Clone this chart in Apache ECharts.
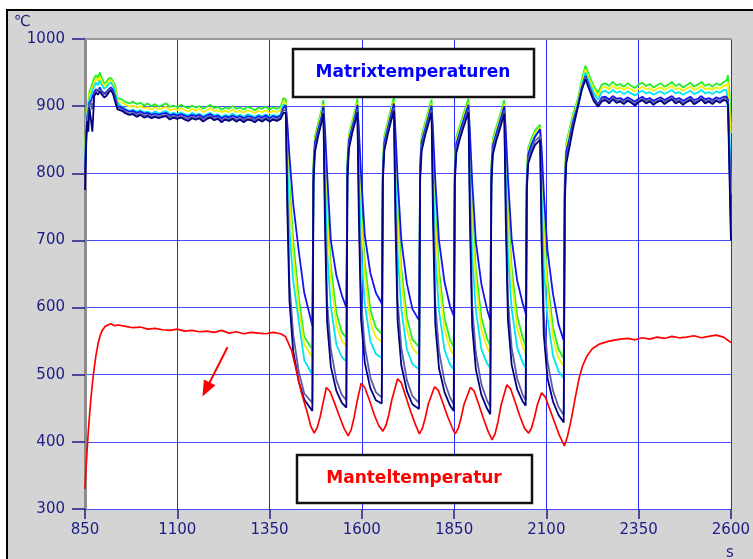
<!DOCTYPE html>
<html style="height: 100%">
<head>
<meta charset="utf-8">
<script src="https://cdn.jsdelivr.net/npm/echarts@6/dist/echarts.min.js"></script>
</head>
<body style="height: 100%; margin: 0; background: #fff">
<div id="container" style="width: 753px; height: 559px"></div>
<script type="text/javascript">
// Zeitachse der Matrix-Thermoelemente (s)
var tMatrix = [
  850, 853, 856, 859, 862, 866, 870, 875, 880, 885, 890, 896, 902, 908, 914, 920, 926, 932, 938,
  950, 960, 970, 980, 990, 1000, 1010, 1020, 1030, 1040,
  1050, 1060, 1070, 1080, 1090, 1100, 1110, 1120, 1130, 1140,
  1150, 1160, 1170, 1180, 1190, 1200, 1210, 1220, 1230, 1240,
  1250, 1260, 1270, 1280, 1290, 1300, 1310, 1320, 1330, 1340,
  1350, 1360, 1370, 1380, 1388,
  1394, 1398, 1404, 1414, 1429, 1444, 1466, 1469, 1473, 1482, 1491,
  1496, 1500, 1506, 1516, 1531, 1546, 1558, 1561, 1565, 1574, 1583,
  1588, 1592, 1598, 1608, 1623, 1638, 1654, 1657, 1661, 1670, 1679,
  1687, 1691, 1697, 1707, 1722, 1737, 1755, 1758, 1762, 1771, 1780,
  1789, 1793, 1799, 1809, 1824, 1839, 1849, 1852, 1856, 1865, 1874,
  1889, 1893, 1899, 1909, 1924, 1939, 1948, 1951, 1955, 1964, 1973,
  1986, 1990, 1996, 2006, 2021, 2036, 2044, 2047, 2051, 2060, 2069,
  2083, 2087, 2093, 2103, 2118, 2133, 2147, 2150, 2154, 2163, 2172,
  2186, 2196, 2206, 2216, 2228, 2240, 2250,
  2260, 2270, 2280, 2290, 2300, 2310, 2320, 2330, 2340, 2350,
  2360, 2370, 2380, 2390, 2400, 2410, 2420, 2430, 2440, 2450,
  2460, 2470, 2480, 2490, 2500, 2510, 2520, 2530, 2540, 2550,
  2560, 2570, 2580, 2588, 2592, 2596, 2600
];

var green = [
  835, 878, 898, 905, 922, 927, 925, 942, 946, 942, 950, 941, 934, 936, 941, 942, 937, 930, 912,
  910, 906, 904, 907, 903, 905, 901, 904, 900, 903,
  899, 902, 904, 899, 901, 898, 902, 899, 897, 901,
  898, 900, 896, 899, 902, 897, 899, 895, 898, 896,
  900, 896, 898, 895, 899, 897, 894, 898, 896, 899,
  895, 898, 896, 899, 912,
  910, 865, 785, 700, 615, 556, 538, 815, 855, 875, 895,
  909, 845, 750, 662, 592, 563, 555, 820, 858, 878, 897,
  911, 848, 754, 667, 597, 570, 561, 816, 856, 876, 896,
  913, 845, 748, 658, 585, 553, 541, 817, 856, 874, 892,
  910, 843, 746, 656, 584, 552, 541, 815, 854, 870, 886,
  911, 841, 744, 656, 585, 554, 543, 810, 852, 868, 884,
  909, 845, 748, 658, 587, 555, 543, 800, 838, 852, 864,
  872, 815, 728, 640, 570, 538, 524, 800, 845, 866, 888,
  912, 940, 960, 946, 930, 920, 932,
  934, 930, 936, 931, 933, 929, 934, 930, 927, 932,
  935, 930, 933, 928, 931, 934, 929, 932, 936, 930,
  933, 928, 931, 935, 929, 932, 936, 930, 933, 929,
  934, 931, 936, 938, 946, 920, 870
];
var yellow = [
  825, 872, 894, 900, 918, 922, 920, 936, 941, 937, 944, 936, 930, 932, 937, 939, 934, 925, 908,
  905, 902, 899, 901, 898, 900, 897, 898, 895, 898,
  895, 897, 899, 894, 896, 894, 897, 894, 892, 896,
  893, 896, 891, 894, 897, 892, 894, 891, 893, 891,
  895, 891, 893, 890, 894, 892, 890, 893, 891, 894,
  890, 893, 891, 894, 908,
  904, 850, 765, 680, 600, 545, 526, 810, 850, 870, 890,
  903, 830, 732, 645, 575, 550, 543, 815, 854, 874, 893,
  905, 833, 736, 650, 580, 556, 549, 812, 852, 872, 892,
  907, 830, 730, 642, 568, 540, 529, 812, 852, 870, 888,
  904, 828, 728, 640, 567, 539, 529, 810, 850, 866, 882,
  905, 826, 726, 640, 568, 541, 531, 806, 848, 864, 880,
  903, 830, 730, 642, 570, 542, 531, 797, 834, 848, 860,
  868, 800, 710, 625, 555, 525, 512, 795, 840, 862, 884,
  908, 935, 955, 941, 925, 915, 927,
  929, 925, 930, 926, 928, 924, 928, 925, 922, 926,
  929, 925, 927, 923, 926, 928, 924, 927, 930, 925,
  927, 923, 926, 929, 924, 926, 930, 925, 927, 924,
  928, 926, 930, 931, 935, 900, 860
];
var cyan = [
  815, 866, 890, 895, 912, 916, 915, 930, 935, 931, 938, 931, 926, 928, 933, 935, 930, 920, 905,
  899, 896, 893, 895, 892, 894, 891, 892, 889, 892,
  889, 891, 893, 888, 890, 888, 891, 888, 886, 890,
  887, 889, 885, 888, 890, 886, 888, 884, 887, 885,
  889, 885, 887, 884, 888, 886, 884, 887, 885, 888,
  884, 887, 885, 888, 903,
  899, 820, 715, 640, 580, 522, 500, 805, 846, 866, 885,
  898, 800, 682, 602, 545, 526, 520, 810, 850, 870, 889,
  900, 803, 686, 606, 550, 531, 525, 806, 848, 868, 887,
  902, 800, 680, 598, 538, 516, 508, 808, 848, 866, 884,
  899, 798, 678, 596, 537, 515, 508, 805, 845, 862, 878,
  900, 796, 676, 596, 538, 517, 510, 802, 843, 860, 876,
  898, 800, 680, 598, 540, 518, 510, 792, 830, 845, 856,
  864, 770, 660, 585, 528, 505, 495, 785, 832, 855, 880,
  905, 930, 950, 936, 920, 910, 921,
  923, 919, 924, 920, 922, 918, 922, 919, 916, 920,
  923, 919, 921, 917, 920, 922, 918, 921, 924, 919,
  921, 917, 920, 923, 918, 920, 924, 919, 921, 918,
  922, 920, 924, 924, 922, 860, 770
];
var blue = [
  800, 858, 885, 888, 905, 908, 906, 921, 925, 922, 928, 922, 919, 921, 925, 928, 924, 913, 900,
  898, 894, 892, 893, 890, 892, 889, 890, 887, 889,
  887, 889, 890, 886, 888, 886, 888, 886, 884, 887,
  885, 887, 883, 886, 888, 884, 886, 882, 885, 883,
  886, 883, 885, 882, 885, 884, 882, 885, 883, 886,
  882, 885, 883, 886, 898,
  901, 875, 825, 755, 685, 622, 573, 805, 845, 866, 884,
  900, 868, 800, 700, 648, 618, 600, 810, 848, 868, 887,
  902, 866, 798, 708, 652, 622, 606, 806, 846, 866, 886,
  904, 864, 792, 700, 636, 598, 581, 808, 846, 864, 882,
  901, 862, 790, 700, 638, 602, 588, 805, 843, 860, 876,
  902, 860, 788, 698, 635, 598, 581, 802, 841, 858, 874,
  900, 864, 792, 702, 640, 606, 591, 790, 828, 843, 854,
  866, 838, 772, 685, 620, 575, 551, 785, 832, 852, 876,
  902, 927, 945, 930, 913, 903, 913,
  914, 910, 915, 911, 912, 909, 913, 910, 907, 911,
  914, 910, 912, 908, 911, 913, 909, 912, 915, 910,
  912, 908, 911, 914, 909, 911, 915, 910, 912, 909,
  913, 911, 914, 914, 910, 830, 730
];
var slate = [
  790, 850, 882, 880, 902, 905, 895, 918, 922, 920, 925, 920, 917, 919, 923, 926, 921, 910, 898,
  895, 891, 889, 890, 887, 889, 886, 887, 884, 886,
  884, 886, 887, 883, 885, 883, 885, 883, 881, 884,
  882, 884, 880, 883, 885, 881, 883, 879, 882, 880,
  883, 880, 882, 879, 882, 881, 879, 882, 880, 883,
  879, 882, 880, 883, 894,
  894, 775, 635, 560, 505, 472, 458, 795, 840, 862, 880,
  893, 758, 608, 538, 492, 470, 462, 800, 842, 864, 883,
  895, 762, 612, 542, 496, 474, 466, 797, 840, 862, 881,
  897, 760, 610, 540, 492, 468, 458, 798, 840, 860, 878,
  894, 758, 606, 536, 490, 466, 456, 795, 837, 856, 871,
  895, 755, 602, 532, 486, 462, 452, 792, 835, 854, 869,
  893, 760, 610, 540, 494, 470, 462, 782, 822, 836, 848,
  855, 730, 590, 520, 476, 452, 440, 770, 822, 846, 871,
  901, 926, 943, 928, 910, 901, 910,
  911, 907, 912, 908, 909, 906, 910, 907, 904, 908,
  911, 907, 909, 905, 908, 910, 906, 909, 912, 907,
  909, 905, 908, 911, 906, 908, 912, 907, 909, 906,
  910, 908, 911, 911, 906, 820, 715
];
var navy = [
  775, 840, 878, 862, 898, 900, 862, 915, 920, 917, 922, 917, 913, 915, 920, 924, 918, 906, 895,
  893, 889, 887, 888, 884, 887, 883, 885, 882, 884,
  882, 884, 885, 880, 883, 881, 883, 880, 878, 882,
  880, 882, 877, 881, 883, 879, 881, 876, 880, 878,
  881, 877, 880, 876, 880, 879, 876, 880, 877, 881,
  877, 880, 878, 881, 890,
  890, 750, 610, 535, 490, 463, 446, 785, 832, 856, 876,
  889, 728, 578, 512, 476, 458, 451, 792, 836, 860, 879,
  891, 732, 582, 518, 480, 462, 457, 788, 834, 857, 877,
  893, 730, 580, 514, 476, 456, 449, 790, 833, 855, 873,
  890, 728, 576, 510, 474, 454, 446, 786, 830, 850, 866,
  891, 725, 572, 508, 470, 450, 441, 784, 828, 848, 864,
  889, 730, 580, 515, 478, 460, 454, 775, 815, 830, 842,
  850, 700, 560, 495, 460, 440, 429, 760, 815, 840, 866,
  900, 924, 940, 925, 908, 899, 907,
  909, 904, 910, 905, 907, 903, 908, 905, 901, 906,
  909, 904, 907, 902, 906, 908, 903, 907, 910, 904,
  907, 902, 906, 909, 903, 906, 910, 904, 907, 903,
  908, 905, 909, 908, 902, 800, 700
];

// Manteltemperatur
var tMantel = [
  850, 854, 858, 862, 866, 870, 875, 880, 886, 892, 898, 905, 912, 920, 930,
  940, 960, 980, 1000, 1020, 1040, 1060, 1080, 1100, 1120, 1140, 1160,
  1180, 1200, 1220, 1240, 1260, 1280, 1300, 1320, 1340, 1360, 1380,
  1393, 1410, 1424, 1437, 1451, 1462,
  1471, 1479, 1487, 1495, 1504, 1514, 1526, 1540, 1552,
  1563, 1571, 1579, 1587, 1598, 1608, 1620, 1634, 1646,
  1657, 1665, 1673, 1681, 1697, 1707, 1719, 1733, 1745,
  1756, 1764, 1772, 1780, 1797, 1807, 1819, 1833, 1845,
  1853, 1861, 1869, 1877, 1894, 1904, 1916, 1930, 1942,
  1953, 1961, 1969, 1977, 1993, 2003, 2015, 2029, 2041,
  2052, 2060, 2068, 2076, 2087, 2097, 2109, 2123, 2135,
  2149, 2158, 2168, 2178, 2188, 2198, 2210, 2225, 2245, 2270, 2300,
  2320, 2340, 2360, 2380, 2400, 2420, 2440, 2460, 2480, 2500,
  2520, 2540, 2560, 2580, 2600
];
var mantel = [
  330, 372, 408, 438, 464, 487, 510, 530, 548, 560, 567, 572, 574, 576, 573,
  574, 572, 570, 571, 568, 569, 567, 566, 568, 565, 566, 564,
  565, 563, 566, 562, 564, 561, 563, 562, 561, 563, 561,
  557, 536, 503, 472, 446, 423,
  413, 421, 437, 458, 481, 475, 458, 437, 420,
  409, 418, 436, 460, 487, 481, 463, 440, 424,
  416, 424, 440, 462, 494, 488, 468, 444, 426,
  412, 420, 436, 456, 482, 477, 459, 437, 421,
  412, 420, 436, 456, 481, 476, 457, 434, 416,
  403, 412, 430, 454, 485, 479, 460, 437, 420,
  413, 421, 437, 456, 473, 467, 449, 428, 410,
  394, 410, 435, 465, 493, 513, 528, 539, 546, 550, 553,
  554, 552, 555, 553, 556, 554, 557, 555, 556, 558,
  555, 557, 559, 556, 548
];

var matrixSeries = [
  ['gruen', green, '#22ee22'],
  ['gelb', yellow, '#f2f200'],
  ['cyan', cyan, '#00e6f0'],
  ['blau', blue, '#1414f0'],
  ['grau', slate, '#5c5ca8'],
  ['dunkelblau', navy, '#000080']
];

var axisColor = '#1c1c84';
var font = 'DejaVu Sans';

function pairs(t, v) {
    return t.map(function (x, i) { return [x, v[i]]; });
}
function plain(v) { return String(v); }

var chart = echarts.init(document.getElementById('container'));

var series = matrixSeries.map(function (s) {
    return {
        name: s[0],
        type: 'line',
        symbol: 'none',
        data: pairs(tMatrix, s[1]),
        lineStyle: { color: s[2], width: 1.8 },
        itemStyle: { color: s[2] }
    };
});
series.push({
    name: 'Mantel',
    type: 'line',
    symbol: 'none',
    data: pairs(tMantel, mantel),
    lineStyle: { color: '#ff0000', width: 1.7 },
    itemStyle: { color: '#ff0000' },
    markLine: {
        silent: true,
        symbol: ['none', 'triangle'],
        symbolSize: [13, 16],
        label: { show: false },
        lineStyle: { color: '#ff0000', width: 2, type: 'solid' },
        data: [[{ coord: [1236, 541] }, { coord: [1178, 478] }]]
    }
});

var option = {
    animation: false,
    backgroundColor: '#fff',
    grid: {
        left: 85, top: 39, width: 650, height: 470,
        show: true, backgroundColor: '#fff', borderWidth: 0
    },
    xAxis: [{
        type: 'value', min: 850, max: 2600, interval: 250,
        axisLine: { show: false },
        axisTick: { show: true, length: 10, lineStyle: { color: axisColor, width: 1.5 } },
        axisLabel: { color: axisColor, fontFamily: font, fontSize: 15, margin: 14, formatter: plain },
        splitLine: { show: true, lineStyle: { color: '#2828ff', width: 1 } }
    }, {
        type: 'value', position: 'top', min: 850, max: 2600,
        axisLine: { show: true, lineStyle: { color: '#9a9a9a', width: 2 } },
        axisTick: { show: false }, axisLabel: { show: false }, splitLine: { show: false }
    }],
    yAxis: {
        type: 'value', min: 300, max: 1000, interval: 100,
        axisLine: { show: true, lineStyle: { color: '#8c8c8c', width: 3 } },
        axisTick: { show: true, length: 13, lineStyle: { color: axisColor, width: 1.5 } },
        axisLabel: { color: axisColor, fontFamily: font, fontSize: 15, margin: 20, formatter: plain },
        splitLine: { show: true, lineStyle: { color: '#4a4aff', width: 1 } }
    },
    graphic: [
        {
            type: 'rect', z: -10, silent: true,
            shape: { x: 7, y: 10, width: 800, height: 600 },
            style: { fill: '#d4d4d4', stroke: '#000', lineWidth: 2 }
        },
        {
            type: 'text', z: 10, x: 14, y: 15,
            style: { text: '℃', font: '15px "DejaVu Sans"', fill: axisColor }
        },
        {
            type: 'text', z: 10, x: 726, y: 546,
            style: { text: 's', font: '15px "DejaVu Sans"', fill: axisColor }
        },
        {
            type: 'rect', z: 100,
            shape: { x: 293, y: 49, width: 241, height: 48 },
            style: { fill: '#fff', stroke: '#111', lineWidth: 2.5 }
        },
        {
            type: 'text', z: 101, x: 413, y: 73,
            style: {
                text: 'Matrixtemperaturen', fill: '#0000ff',
                font: 'bold 17px "DejaVu Sans"', align: 'center', verticalAlign: 'middle'
            }
        },
        {
            type: 'rect', z: 100,
            shape: { x: 297, y: 455, width: 235, height: 48 },
            style: { fill: '#fff', stroke: '#111', lineWidth: 2.5 }
        },
        {
            type: 'text', z: 101, x: 414, y: 479,
            style: {
                text: 'Manteltemperatur', fill: '#ff0000',
                font: 'bold 17px "DejaVu Sans"', align: 'center', verticalAlign: 'middle'
            }
        }
    ],
    series: series
};

chart.setOption(option);
</script>
</body>
</html>
